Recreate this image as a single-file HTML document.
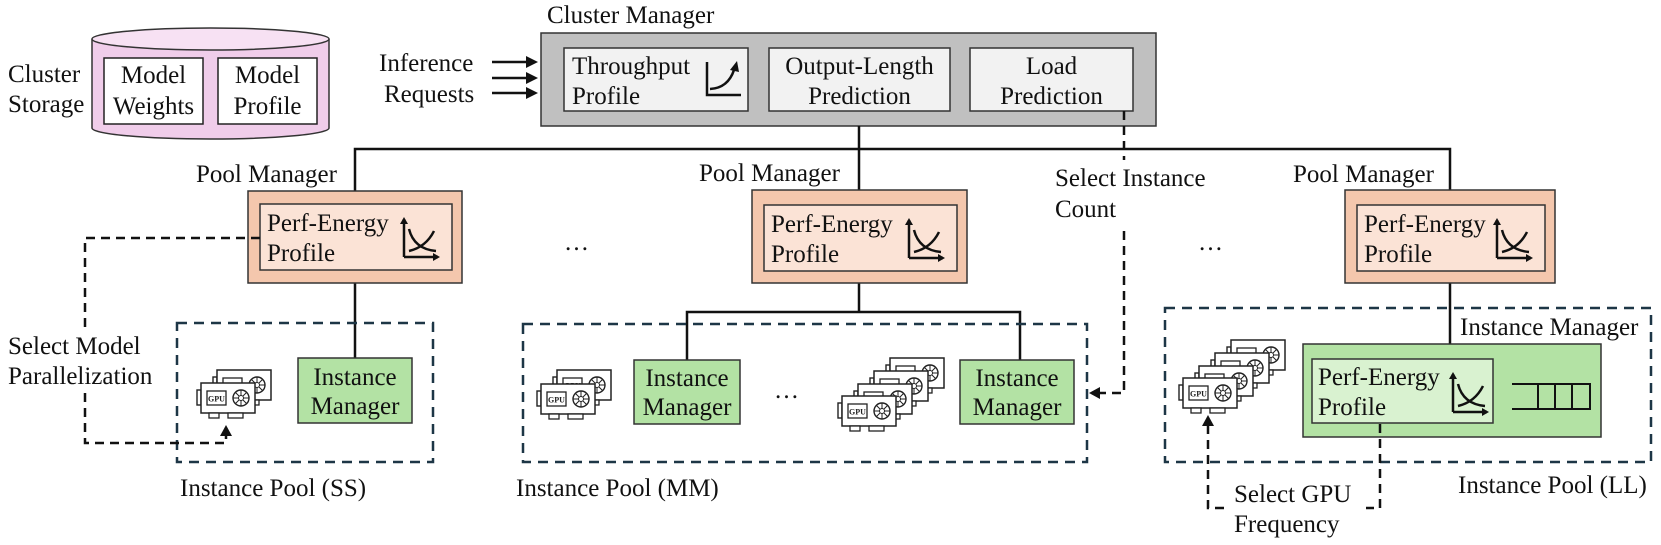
<!DOCTYPE html>
<html><head><meta charset="utf-8"><style>
html,body{margin:0;padding:0;background:#fff;}
svg{display:block;}
text{font-family:"Liberation Serif","Times New Roman",serif;}
</style></head><body>
<svg width="1661" height="545" viewBox="0 0 1661 545" xmlns="http://www.w3.org/2000/svg" font-family="Liberation Serif, serif">
<defs>
<g id="card">
  <rect x="-4" y="7" width="4" height="15" fill="#fff" stroke="#222" stroke-width="1.4"/>
  <rect x="0" y="0" width="54" height="30" fill="#fff" stroke="#222" stroke-width="1.5"/>
  <rect x="8" y="30" width="10" height="5" fill="#fff" stroke="#222" stroke-width="1.3"/>
  <rect x="27" y="30" width="15" height="5" fill="#fff" stroke="#222" stroke-width="1.3"/>
  <rect x="6" y="8" width="19" height="14" fill="#fff" stroke="#222" stroke-width="1.3"/>
  <text x="15.5" y="18.5" font-size="8" font-weight="bold" text-anchor="middle" fill="#222" font-family="Liberation Sans, sans-serif">GPU</text>
  <circle cx="40" cy="15" r="8" fill="#fff" stroke="#222" stroke-width="1.4"/>
  <circle cx="40" cy="15" r="2.5" fill="none" stroke="#222" stroke-width="1"/>
  <path d="M40 7 V12.5 M40 17.5 V23 M32 15 H37.5 M42.5 15 H48 M34.5 9.5 L38 13 M42 17 L45.5 20.5 M45.5 9.5 L42 13 M38 17 L34.5 20.5" stroke="#222" stroke-width="1"/>
</g>
<g id="pe">
  <path d="M4 40 V2" stroke="#111" stroke-width="2.5" fill="none"/>
  <path d="M0 7 L4 0 L8 7 Z" fill="#111"/>
  <path d="M4 40 H38" stroke="#111" stroke-width="2.5" fill="none"/>
  <path d="M33 36 L40 40 L33 44 Z" fill="#111"/>
  <path d="M9 12 Q14 32 36 34" stroke="#111" stroke-width="2.5" fill="none"/>
  <path d="M9 34 Q26 30 34 14" stroke="#111" stroke-width="2.5" fill="none"/>
</g>
</defs>

<path d="M92 39 V128 A118.5 11 0 0 0 329 128 V39" fill="#f0cdea" stroke="#333" stroke-width="1.5"/>
<ellipse cx="210.5" cy="39" rx="118.5" ry="11" fill="#f7e1f3" stroke="#333" stroke-width="1.5"/>
<rect x="104" y="58" width="99" height="66" fill="#fff" stroke="#222" stroke-width="1.5"/>
<rect x="218" y="58" width="99" height="66" fill="#fff" stroke="#222" stroke-width="1.5"/>
<g font-size="25" fill="#111">
<text x="153.5" y="83" text-anchor="middle">Model</text>
<text x="153.5" y="114" text-anchor="middle">Weights</text>
<text x="267.5" y="83" text-anchor="middle">Model</text>
<text x="267.5" y="114" text-anchor="middle">Profile</text>
<text x="8" y="82">Cluster</text>
<text x="8" y="112">Storage</text>
<text x="379" y="71">Inference</text>
<text x="384" y="102">Requests</text>
<text x="547" y="23">Cluster Manager</text>
</g>

<g stroke="#111" stroke-width="2.5">
<line x1="492" y1="62" x2="528" y2="62"/><line x1="492" y1="78" x2="528" y2="78"/><line x1="492" y1="93" x2="528" y2="93"/>
</g>
<g fill="#111">
<path d="M526 56 L538 62 L526 68Z"/><path d="M526 72 L538 78 L526 84Z"/><path d="M526 87 L538 93 L526 99Z"/>
</g>

<rect x="541" y="33" width="615" height="93" fill="#c0c0c0" stroke="#333" stroke-width="1.5"/>
<rect x="564" y="48" width="184" height="63" fill="#f2f2f2" stroke="#333" stroke-width="1.5"/>
<rect x="769" y="48" width="181" height="63" fill="#f2f2f2" stroke="#333" stroke-width="1.5"/>
<rect x="970" y="48" width="163" height="63" fill="#f2f2f2" stroke="#333" stroke-width="1.5"/>
<g font-size="25" fill="#111">
<text x="572" y="74">Throughput</text>
<text x="572" y="104">Profile</text>
<text x="859.5" y="74" text-anchor="middle">Output-Length</text>
<text x="859.5" y="104" text-anchor="middle">Prediction</text>
<text x="1051.5" y="74" text-anchor="middle">Load</text>
<text x="1051.5" y="104" text-anchor="middle">Prediction</text>
</g>
<path d="M707 62 V95 H741" stroke="#111" stroke-width="2.5" fill="none"/>
<path d="M710 89 Q728 88 734 70" stroke="#111" stroke-width="2.5" fill="none"/>
<path d="M730 70 L737 61 L739 72Z" fill="#111"/>

<g stroke="#111" stroke-width="2.5" fill="none">
<line x1="859" y1="126" x2="859" y2="190"/>
<path d="M355 191 V149 H1450 V190"/>
<line x1="355" y1="283" x2="355" y2="358"/>
<line x1="859" y1="283" x2="859" y2="312"/>
<path d="M687 360 V312 H1020 V360"/>
<line x1="1450" y1="283" x2="1450" y2="344"/>
</g>

<g font-size="25" fill="#111">
<text x="196" y="182">Pool Manager</text>
<text x="699" y="181">Pool Manager</text>
<text x="1293" y="182">Pool Manager</text>
</g>
<rect x="248" y="191" width="214" height="92" fill="#f4c7ad" stroke="#333" stroke-width="1.5"/>
<rect x="260" y="204" width="192" height="66" fill="#fbe3d6" stroke="#333" stroke-width="1.5"/>
<rect x="752" y="190" width="215" height="93" fill="#f4c7ad" stroke="#333" stroke-width="1.5"/>
<rect x="764" y="205" width="193" height="66" fill="#fbe3d6" stroke="#333" stroke-width="1.5"/>
<rect x="1345" y="190" width="210" height="93" fill="#f4c7ad" stroke="#333" stroke-width="1.5"/>
<rect x="1357" y="205" width="188" height="66" fill="#fbe3d6" stroke="#333" stroke-width="1.5"/>
<g font-size="25" fill="#111">
<text x="267" y="231">Perf-Energy</text><text x="267" y="261">Profile</text>
<text x="771" y="232">Perf-Energy</text><text x="771" y="262">Profile</text>
<text x="1364" y="232">Perf-Energy</text><text x="1364" y="262">Profile</text>
</g>
<use href="#pe" x="400" y="217"/>
<use href="#pe" x="905" y="218"/>
<use href="#pe" x="1493" y="218"/>

<g font-size="25" fill="#111">
<text x="564" y="250">…</text>
<text x="774" y="398">…</text>
<text x="1198" y="250">…</text>
</g>

<g fill="none" stroke="#1d3646" stroke-width="2.5" stroke-dasharray="10 7">
<rect x="177" y="323" width="256" height="139"/>
<rect x="523" y="324" width="564" height="138"/>
<rect x="1165" y="308" width="486" height="154"/>
</g>

<rect x="298" y="358" width="114" height="65" fill="#b3e2a4" stroke="#333" stroke-width="1.5"/>
<rect x="634" y="360" width="106" height="64" fill="#b3e2a4" stroke="#333" stroke-width="1.5"/>
<rect x="960" y="360" width="114" height="64" fill="#b3e2a4" stroke="#333" stroke-width="1.5"/>
<g font-size="25" fill="#111" text-anchor="middle">
<text x="355" y="385">Instance</text><text x="355" y="414">Manager</text>
<text x="687" y="386">Instance</text><text x="687" y="415">Manager</text>
<text x="1017" y="386">Instance</text><text x="1017" y="415">Manager</text>
</g>
<rect x="1303" y="344" width="298" height="93" fill="#b3e2a4" stroke="#333" stroke-width="1.5"/>
<rect x="1312" y="359" width="181" height="64" fill="#d9f2d0" stroke="#333" stroke-width="1.5"/>
<g font-size="25" fill="#111">
<text x="1460" y="335">Instance Manager</text>
<text x="1318" y="385">Perf-Energy</text><text x="1318" y="415">Profile</text>
</g>
<use href="#pe" x="1449" y="372"/>
<g stroke="#111" stroke-width="2" fill="none">
<path d="M1512 384 H1590 V409 H1512"/>
<line x1="1538" y1="384" x2="1538" y2="409"/>
<line x1="1555" y1="384" x2="1555" y2="409"/>
<line x1="1572" y1="384" x2="1572" y2="409"/>
</g>

<use href="#card" x="217" y="370"/>
<use href="#card" x="201" y="383"/>
<use href="#card" x="557" y="370"/>
<use href="#card" x="541" y="384"/>
<use href="#card" x="890" y="358"/>
<use href="#card" x="874" y="371"/>
<use href="#card" x="858" y="384"/>
<use href="#card" x="842" y="396"/>
<use href="#card" x="1231" y="340"/>
<use href="#card" x="1215" y="353"/>
<use href="#card" x="1199" y="366"/>
<use href="#card" x="1183" y="378"/>

<g fill="none" stroke="#111" stroke-width="2.5" stroke-dasharray="9 6">
<path d="M260 238 H85 V443 H226 V434"/>
<path d="M1124 111 V393 H1098"/>
<path d="M1208 425 V508 H1380 V423"/>
</g>
<g fill="#111">
<path d="M220 436 L226 425 L232 436Z"/>
<path d="M1100 387 L1089 393 L1100 399Z"/>
<path d="M1202 426 L1208 415 L1214 426Z"/>
</g>

<rect x="4" y="330" width="156" height="62" fill="#fff"/>
<rect x="1052" y="160" width="160" height="66" fill="#fff"/>
<rect x="1230" y="480" width="136" height="60" fill="#fff"/>
<g font-size="25" fill="#111">
<text x="8" y="354">Select Model</text>
<text x="8" y="384">Parallelization</text>
<text x="1055" y="186">Select Instance</text>
<text x="1055" y="217">Count</text>
<text x="1234" y="502">Select GPU</text>
<text x="1234" y="532">Frequency</text>
<text x="180" y="496">Instance Pool (SS)</text>
<text x="516" y="496">Instance Pool (MM)</text>
<text x="1458" y="493">Instance Pool (LL)</text>
</g>
</svg>
</body></html>
